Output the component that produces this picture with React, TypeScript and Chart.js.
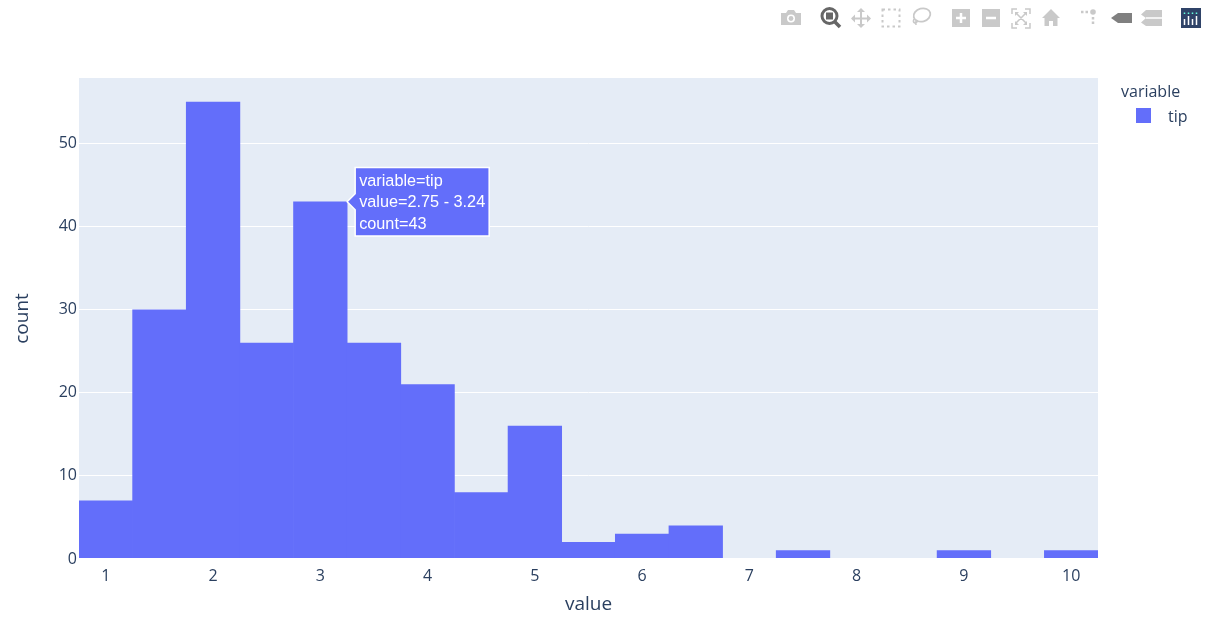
import React, { useEffect, useRef } from "react";
import { Chart, registerables, Tooltip } from "chart.js";

Chart.register(...registerables);

const binCenters = [1, 1.5, 2, 2.5, 3, 3.5, 4, 4.5, 5, 5.5, 6, 6.5, 7, 7.5, 8, 8.5, 9, 9.5, 10];
const counts = [7, 30, 55, 26, 43, 26, 21, 8, 16, 2, 3, 4, 0, 1, 0, 0, 1, 0, 1];
const xTicks = [1, 2, 3, 4, 5, 6, 7, 8, 9, 10];
const yTicks = [0, 10, 20, 30, 40, 50];
const seriesName = "tip";
const legendTitle = "variable";
const xTitle = "value";
const yTitle = "count";
const hoverLines = ["variable=tip", "value=2.75 - 3.24", "count=43"];
const hoverIndex = 4;

const BAR = "#636efa";
const INK = "#2a3f5f";
const FONT = '"Open Sans", sans-serif';

(Tooltip.positioners as any).barRightEdge = function (items: any[]) {
  if (!items.length) return false;
  const el = items[0].element;
  return { x: el.x + el.width / 2, y: el.y };
};

const plotBackground = {
  id: "plotBackground",
  beforeDraw(chart: any) {
    const { ctx, chartArea: a } = chart;
    ctx.save();
    ctx.fillStyle = "#e5ecf6";
    ctx.fillRect(a.left, a.top, a.right - a.left, a.bottom - a.top);
    ctx.restore();
  },
};

const G = "#c9c9c9";
function Modebar() {
  return (
    <svg width={1210} height={36} style={{ position: "absolute", left: 0, top: 0 }}>
      {/* camera */}
      <path fill={G} d="M781 13h5l2-3h6l2 3h5v12h-20z" />
      <circle cx={791} cy={18.5} r={4} fill="#fff" />
      <circle cx={791} cy={18.5} r={2.4} fill={G} />
      {/* zoom (active) */}
      <circle cx={829.5} cy={16} r={7.5} fill="none" stroke="#666" strokeWidth={3} />
      <rect x={826} y={12.5} width={7} height={7} fill="#666" />
      <path d="M835 22l5 5" stroke="#666" strokeWidth={3.5} />
      {/* pan */}
      <path fill="none" stroke={G} strokeWidth={2} d="M861 10v17M852.5 18.500h17" />
      <path fill={G} d="M861 8l4 4h-8zM861 28l4-4h-8zM851 18.500l4-4v8zM871 18.500l-4-4v8z" />
      {/* box select */}
      <rect x={882.500} y={9.500} width={17} height={17} fill="none" stroke={G} strokeWidth={2} strokeDasharray="2.500 3" />
      {/* lasso */}
      <ellipse cx={922} cy={15} rx={8.500} ry={6.500} fill="none" stroke={G} strokeWidth={1.800} transform="rotate(-15 922 15)" />
      <path d="M914 19c-2 4 2 5 3 3s-2-3-1 3" fill="none" stroke={G} strokeWidth={1.500} />
      {/* plus */}
      <rect x={952} y={9} width={18} height={18} fill={G} />
      <path d="M961 13v10M956 18h10" stroke="#fff" strokeWidth={2.500} />
      {/* minus */}
      <rect x={982} y={9} width={18} height={18} fill={G} />
      <path d="M986 18h10" stroke="#fff" strokeWidth={2.500} />
      {/* autoscale */}
      <path fill="none" stroke={G} strokeWidth={1.500} d="M1012 14v-5h5M1025 9h5v5M1030 23v5h-5M1017 28h-5v-5M1016 13l10 10M1026 13l-10 10" />
      <path fill={G} d="M1015 12h4l-4 4zM1027 12v4l-4-4zM1027 25h-4l4-4zM1015 25v-4l4 4z" />
      {/* home */}
      <path fill={G} d="M1051 9l9 9h-2.500v8h-4.500v-5h-4v5h-4.500v-8H1042z" />
      {/* spikelines */}
      <circle cx={1093} cy={12} r={2.800} fill={G} />
      <path d="M1081 12h7M1093 17v9" stroke={G} strokeWidth={2.500} strokeDasharray="2.500 2" />
      {/* closest */}
      <path fill="#808080" d="M1111 18l7-5h14v10h-14z" />
      {/* compare */}
      <path fill={G} d="M1141 14.500l5-4.500h16v8h-16zM1141 22.500l5-4.500h16v8h-16z" />
      <path d="M1146 18h16" stroke="#fff" strokeWidth={1.500} />
      {/* logo */}
      <rect x={1181} y={8} width={20} height={20} fill="#2f4368" />
      <path d="M1184.500 19v6M1188.500 16v9M1192.500 19v6M1196.500 16v9" stroke="#fff" strokeWidth={1.500} />
      <path d="M1184.500 12.500v1.500M1188.500 12.500v1.500M1192.500 12.500v1.500M1196.500 12.500v1.500" stroke="#6fd" strokeWidth={1.500} />
    </svg>
  );
}

export default function App() {
  const ref = useRef<HTMLCanvasElement>(null);

  useEffect(() => {
    const chart = new Chart(ref.current!, {
      type: "bar",
      data: {
        datasets: [
          {
            label: seriesName,
            // empty bins draw no bar, so the white zero line stays visible there
            data: binCenters.map((x, i) => ({ x, y: counts[i] === 0 ? null : counts[i] })),
            backgroundColor: BAR,
            hoverBackgroundColor: BAR,
            borderWidth: 0,
            barPercentage: 1,
            categoryPercentage: 1,
            grouped: false,
          },
        ],
      },
      plugins: [plotBackground],
      options: {
        responsive: false,
        animation: false,
        events: [],
        layout: { padding: { top: 78, right: 112, left: 0, bottom: 0 } },
        plugins: {
          legend: { display: false },
          tooltip: {
            enabled: true,
            position: "barRightEdge",
            xAlign: "left",
            yAlign: "center",
            backgroundColor: BAR,
            borderColor: "#ffffff",
            borderWidth: 1.5,
            cornerRadius: 0,
            caretSize: 8,
            caretPadding: 0,
            displayColors: false,
            padding: { left: 4, right: 4, top: 4, bottom: 2 },
            bodyColor: "#ffffff",
            bodyFont: { family: '"Liberation Sans", Arial, sans-serif', size: 16.25 },
            bodySpacing: 2,
            callbacks: {
              title: () => [],
              label: () => hoverLines,
            },
          },
        } as any,
        scales: {
          x: {
            type: "linear",
            offset: false,
            min: 0.75,
            max: 10.25,
            grid: { display: false },
            border: { display: false },
            afterBuildTicks: (s: any) => {
              s.ticks = xTicks.map((value) => ({ value }));
            },
            afterFit: (s: any) => {
              s.height = 69;
            },
            ticks: {
              color: INK,
              font: { family: FONT, size: 16 },
              padding: 0,
              maxRotation: 0,
              autoSkip: false,
            },
            title: {
              display: true,
              text: xTitle,
              color: INK,
              font: { family: FONT, size: 19 },
              padding: { top: 0, bottom: 12 },
            },
          },
          y: {
            min: 0,
            max: 57.89,
            grid: {
              color: "#ffffff",
              lineWidth: (c: any) => (c.tick && c.tick.value === 0 ? 2.5 : 1),
              drawTicks: false,
            },
            border: { display: false },
            afterBuildTicks: (s: any) => {
              s.ticks = yTicks.map((value) => ({ value }));
            },
            afterFit: (s: any) => {
              s.width = 79;
            },
            ticks: {
              color: INK,
              font: { family: FONT, size: 16 },
              padding: 2,
            },
            title: {
              display: true,
              text: yTitle,
              color: INK,
              font: { family: FONT, size: 19 },
              padding: { top: 11, bottom: 0 },
            },
          },
        },
      },
    });
    const el = chart.getDatasetMeta(0).data[hoverIndex];
    chart.setActiveElements([{ datasetIndex: 0, index: hoverIndex }]);
    chart.tooltip!.setActiveElements([{ datasetIndex: 0, index: hoverIndex }], { x: el.x, y: el.y });
    chart.render();
    return () => chart.destroy();
  }, []);

  return (
    <div style={{ position: "fixed", left: 0, top: 0, width: 1210, height: 628, background: "#fff", overflow: "hidden" }}>
      <canvas ref={ref} width={1210} height={628} style={{ position: "absolute", left: 0, top: 0, width: 1210, height: 628 }} />
      <Modebar />
      <div style={{ position: "absolute", left: 1121, top: 81, font: `16px ${FONT}`, lineHeight: "20px", color: INK }}>{legendTitle}</div>
      <div style={{ position: "absolute", left: 1136, top: 108, width: 15, height: 15, background: BAR }} />
      <div style={{ position: "absolute", left: 1168, top: 106, font: `16px ${FONT}`, lineHeight: "20px", color: INK }}>{seriesName}</div>
    </div>
  );
}
